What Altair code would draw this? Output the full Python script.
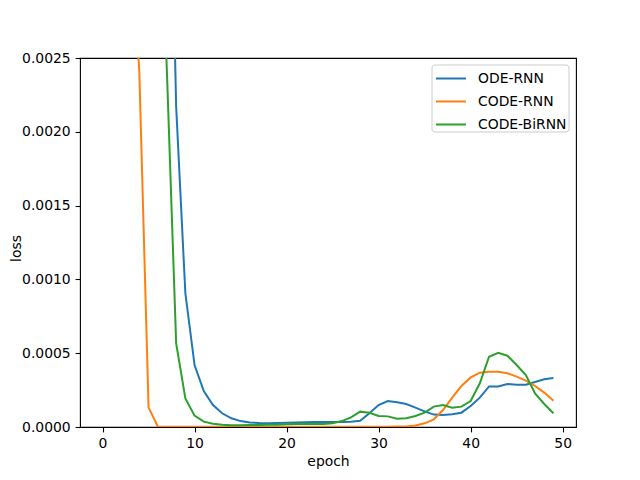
import altair as alt
import pandas as pd

epochs = list(range(50))

ode_rnn = [0.06, 0.04, 0.025, 0.015, 0.010, 0.008, 0.0065, 0.005, 0.00217, 0.000906,
           0.00042, 0.000244, 0.000149, 0.000093, 0.000059, 0.000040, 0.000031, 0.000027, 0.000026, 0.000027,
           0.000029, 0.000031, 0.000033, 0.000034, 0.000034, 0.000034, 0.000034, 0.000036, 0.000042, 0.000093,
           0.000149, 0.000176, 0.000167, 0.000156, 0.000131, 0.000106, 0.000084, 0.000081, 0.000086, 0.000097,
           0.000142, 0.000199, 0.000275, 0.000275, 0.000291, 0.000287, 0.000287, 0.000305, 0.000323, 0.000332]

code_rnn = [0.05, 0.03, 0.015, 0.0035, 0.0024, 0.000133, 0.000003, 0.000002, 0.000002, 0.000002,
            0.000002, 0.000002, 0.000002, 0.000002, 0.000002, 0.000002, 0.000002, 0.000002, 0.000002, 0.000002,
            0.000002, 0.000002, 0.000002, 0.000002, 0.000002, 0.000002, 0.000002, 0.000002, 0.000002, 0.000002,
            0.000002, 0.000002, 0.000003, 0.000004, 0.000010, 0.000025, 0.000052, 0.000115, 0.000199, 0.000278,
            0.000336, 0.000368, 0.000375, 0.000375, 0.000364, 0.000341, 0.000314, 0.000278, 0.000233, 0.000178]

code_birnn = [0.06, 0.04, 0.03, 0.02, 0.012, 0.007, 0.004, 0.0024, 0.000567, 0.000194,
              0.000077, 0.000036, 0.000022, 0.000015, 0.000012, 0.000012, 0.000013, 0.000014, 0.000015, 0.000016,
              0.000018, 0.000020, 0.000020, 0.000020, 0.000020, 0.000025, 0.000040, 0.000065, 0.000104, 0.000097,
              0.000075, 0.000072, 0.000056, 0.000059, 0.000075, 0.000097, 0.000138, 0.000149, 0.000131, 0.000138,
              0.000176, 0.000296, 0.000476, 0.000503, 0.000483, 0.000420, 0.000352, 0.000228, 0.000156, 0.000093]

series_names = ["ODE-RNN", "CODE-RNN", "CODE-BiRNN"]
series_colors = ["#1f77b4", "#ff7f0e", "#2ca02c"]
x_ticks = [0, 10, 20, 30, 40, 50]
y_ticks = [0.0, 0.0005, 0.0010, 0.0015, 0.0020, 0.0025]

rows = []
for name, vals in zip(series_names, [ode_rnn, code_rnn, code_birnn]):
    for e, v in zip(epochs, vals):
        rows.append({"epoch": e, "loss": v, "model": name})
df = pd.DataFrame(rows)

FONT = "DejaVu Sans"

# legend frame (matplotlib-style rounded box)
legend_box = alt.Chart(alt.Data(values=[{}])).mark_rect(
    fill="white", fillOpacity=0.8, stroke="#cccccc", strokeWidth=1, cornerRadius=3
).encode(
    x=alt.value(352), x2=alt.value(489), y=alt.value(7), y2=alt.value(74)
)

lines = alt.Chart(df).mark_line(clip=True, strokeWidth=2).encode(
    x=alt.X("epoch:Q", title="epoch",
            scale=alt.Scale(domain=[-2.45, 51.45], nice=False, zero=False),
            axis=alt.Axis(values=x_ticks, format="d")),
    y=alt.Y("loss:Q", title="loss",
            scale=alt.Scale(domain=[0, 0.0025], nice=False),
            axis=alt.Axis(values=y_ticks, format=".4f",
                          titleX=-60, titleY=190, titleAngle=-90,
                          titleBaseline="alphabetic", titleAlign="center")),
    color=alt.Color("model:N", sort=series_names,
                    scale=alt.Scale(domain=series_names, range=series_colors),
                    legend=alt.Legend(title=None, orient="none", legendX=355, legendY=4.5,
                                      symbolType="stroke", symbolSize=900, symbolStrokeWidth=2,
                                      labelFont=FONT, labelFontSize=13.9, labelColor="black",
                                      labelOffset=11, rowPadding=0, padding=0)),
    order="epoch:Q",
)

chart = alt.layer(legend_box, lines).properties(
    width=496, height=369,
    background="white",
    autosize=alt.AutoSizeParams(type="none"),
    padding={"left": 72, "top": 50, "right": 56, "bottom": 45},
).configure_view(
    stroke="black", strokeWidth=1.1
).configure_axis(
    grid=False, domain=False,
    tickColor="black", tickWidth=1.1, tickSize=4.9,
    labelFont=FONT, labelFontSize=13.9, labelColor="black", labelPadding=4.9,
    titleFont=FONT, titleFontSize=13.9, titleFontWeight="normal", titleColor="black",
    labelFlush=False, labelOverlap=False,
).configure_axisX(
    titlePadding=4
)

chart.save("out.html", embed_options={"renderer": "svg", "actions": False})
